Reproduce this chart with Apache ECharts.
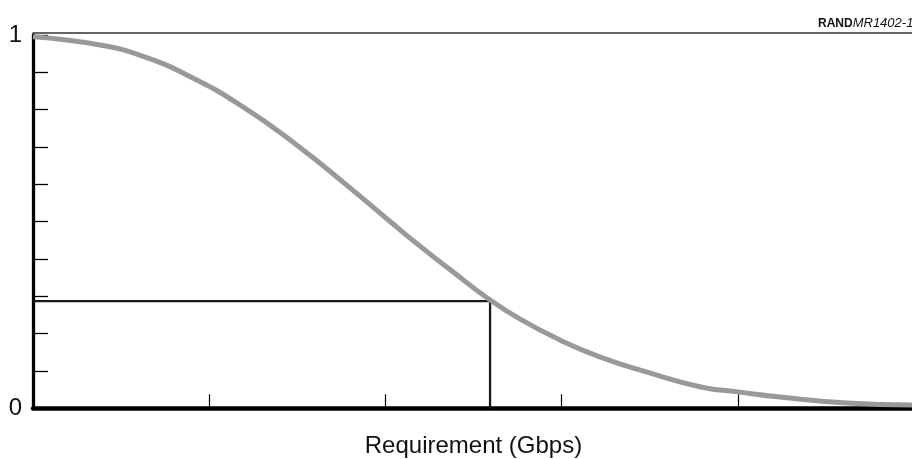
<!DOCTYPE html>
<html>
<head>
<meta charset="utf-8">
<script src="https://cdn.jsdelivr.net/npm/echarts@6/dist/echarts.min.js"></script>
<style>
html,body{margin:0;padding:0;background:#fff;}
#c{width:912px;height:459px;}
</style>
</head>
<body>
<div id="c"></div>
<script>
// Data
var curveX = [0, 0.38, 0.63, 0.91, 1.19, 1.50, 1.78, 2.03, 2.20, 2.39, 2.58, 2.76, 2.99, 3.22, 3.49, 3.79, 4.0, 4.24, 4.62, 4.99];
var curveY = [0.995, 0.973, 0.942, 0.884, 0.808, 0.704, 0.598, 0.499, 0.433, 0.363, 0.295, 0.240, 0.183, 0.137, 0.096, 0.057, 0.044, 0.030, 0.014, 0.009];
var refX = 2.594;
var refY = 0.287;
var yTickLabels = ['0', '1'];
var xAxisName = 'Requirement (Gbps)';
var tagBold = 'RAND';
var tagItalic = 'MR1402-1';

var curve = curveX.map(function (x, i) { return [x, curveY[i]]; });
var refLine = [[0, refY], [refX, refY], [refX, 0]];
var FONT = '"Liberation Sans", Arial, Helvetica, sans-serif';

var chart = echarts.init(document.getElementById('c'), null, {renderer: 'canvas'});
chart.setOption({
  animation: false,
  backgroundColor: '#fff',
  textStyle: {fontFamily: FONT},
  title: {
    left: 813, top: 12,
    text: '{b|' + tagBold + '}{i|' + tagItalic + '}',
    textStyle: {
      rich: {
        b: {fontFamily: FONT, fontWeight: 'bold', fontSize: 12, color: '#111'},
        i: {fontFamily: FONT, fontStyle: 'italic', fontWeight: 'normal', fontSize: 13, color: '#111'}
      }
    }
  },
  grid: {left: 33, right: -2, top: 35, bottom: 50.7, containLabel: false, outerBoundsMode: 'none'},
  xAxis: [{
    type: 'value', min: 0, max: 5, interval: 1,
    name: xAxisName, nameLocation: 'middle', nameGap: 26,
    nameTextStyle: {fontFamily: FONT, fontSize: 24, color: '#111'},
    axisLine: {show: true, lineStyle: {color: '#000', width: 4.5}},
    axisTick: {show: true, inside: true, length: 14, lineStyle: {color: '#000', width: 1.2}},
    axisLabel: {show: false},
    splitLine: {show: false}
  }, {
    type: 'value', min: 0, max: 5, position: 'top', offset: 2.5,
    axisLine: {show: true, onZero: false, lineStyle: {color: '#333', width: 1.5}},
    axisTick: {show: false}, axisLabel: {show: false}, splitLine: {show: false}
  }],
  yAxis: {
    type: 'value', min: 0, max: 1, interval: 0.1,
    axisLine: {show: true, lineStyle: {color: '#000', width: 3.3}},
    axisTick: {show: true, inside: true, length: 15, lineStyle: {color: '#000', width: 1.3}},
    axisLabel: {
      show: true, margin: 11, fontFamily: FONT, fontSize: 24, color: '#111',
      formatter: function (v) {
        if (Math.abs(v) < 1e-6) return yTickLabels[0];
        if (Math.abs(v - 1) < 1e-6) return yTickLabels[1];
        return '';
      }
    },
    splitLine: {show: false}
  },
  series: [{
    type: 'line', data: refLine, symbol: 'none', silent: true,
    lineStyle: {color: '#1a1a1a', width: 2.3}, z: 2
  }, {
    type: 'line', data: curve, symbol: 'none', smooth: 0.5, silent: true,
    lineStyle: {color: '#999999', width: 5}, z: 3
  }]
});
</script>
</body>
</html>
